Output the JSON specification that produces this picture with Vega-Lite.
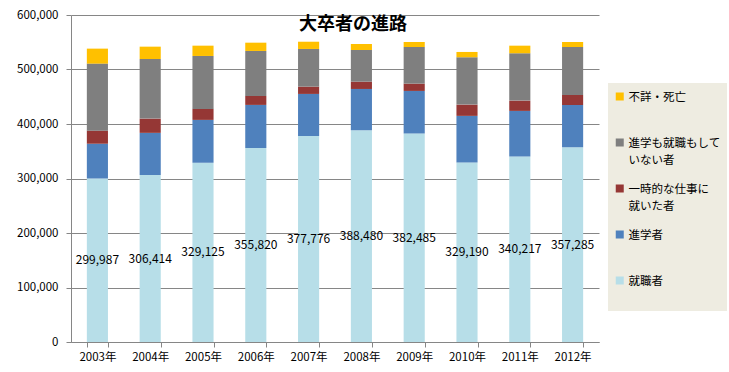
{
  "$schema": "https://vega.github.io/schema/vega-lite/v6.json",
  "autosize": {"type": "none"},
  "width": 528,
  "height": 327,
  "padding": {"left": 71, "top": 15, "right": 130, "bottom": 30},
  "background": "white",
  "config": {
    "font": "Noto Sans CJK JP",
    "view": {"stroke": null},
    "style": {"guide-label": {"lineHeight": 17}}
  },
  "title": {
    "text": "大卒者の進路",
    "fontSize": 18,
    "fontWeight": "bold",
    "font": "Noto Sans CJK JP",
    "color": "#000000",
    "anchor": "middle",
    "frame": "group",
    "offset": -25,
    "dx": 18
  },
  "data": {
    "values": [
      {"y": "2003年", "c": "就職者", "n": 1, "v": 299987},
      {"y": "2003年", "c": "進学者", "n": 2, "v": 63800},
      {"y": "2003年", "c": "一時的な仕事に就いた者", "n": 3, "v": 24000},
      {"y": "2003年", "c": "進学も就職もしていない者", "n": 4, "v": 123000},
      {"y": "2003年", "c": "不詳・死亡", "n": 5, "v": 27500},
      {"y": "2004年", "c": "就職者", "n": 1, "v": 306414},
      {"y": "2004年", "c": "進学者", "n": 2, "v": 77300},
      {"y": "2004年", "c": "一時的な仕事に就いた者", "n": 3, "v": 26200},
      {"y": "2004年", "c": "進学も就職もしていない者", "n": 4, "v": 109400},
      {"y": "2004年", "c": "不詳・死亡", "n": 5, "v": 22600},
      {"y": "2005年", "c": "就職者", "n": 1, "v": 329125},
      {"y": "2005年", "c": "進学者", "n": 2, "v": 78400},
      {"y": "2005年", "c": "一時的な仕事に就いた者", "n": 3, "v": 20200},
      {"y": "2005年", "c": "進学も就職もしていない者", "n": 4, "v": 97100},
      {"y": "2005年", "c": "不詳・死亡", "n": 5, "v": 18900},
      {"y": "2006年", "c": "就職者", "n": 1, "v": 355820},
      {"y": "2006年", "c": "進学者", "n": 2, "v": 79200},
      {"y": "2006年", "c": "一時的な仕事に就いた者", "n": 3, "v": 16500},
      {"y": "2006年", "c": "進学も就職もしていない者", "n": 4, "v": 82500},
      {"y": "2006年", "c": "不詳・死亡", "n": 5, "v": 15200},
      {"y": "2007年", "c": "就職者", "n": 1, "v": 377776},
      {"y": "2007年", "c": "進学者", "n": 2, "v": 77400},
      {"y": "2007年", "c": "一時的な仕事に就いた者", "n": 3, "v": 13400},
      {"y": "2007年", "c": "進学も就職もしていない者", "n": 4, "v": 69100},
      {"y": "2007年", "c": "不詳・死亡", "n": 5, "v": 13300},
      {"y": "2008年", "c": "就職者", "n": 1, "v": 388480},
      {"y": "2008年", "c": "進学者", "n": 2, "v": 75800},
      {"y": "2008年", "c": "一時的な仕事に就いた者", "n": 3, "v": 13400},
      {"y": "2008年", "c": "進学も就職もしていない者", "n": 4, "v": 58100},
      {"y": "2008年", "c": "不詳・死亡", "n": 5, "v": 11000},
      {"y": "2009年", "c": "就職者", "n": 1, "v": 382485},
      {"y": "2009年", "c": "進学者", "n": 2, "v": 78200},
      {"y": "2009年", "c": "一時的な仕事に就いた者", "n": 3, "v": 13400},
      {"y": "2009年", "c": "進学も就職もしていない者", "n": 4, "v": 67200},
      {"y": "2009年", "c": "不詳・死亡", "n": 5, "v": 9200},
      {"y": "2010年", "c": "就職者", "n": 1, "v": 329190},
      {"y": "2010年", "c": "進学者", "n": 2, "v": 85700},
      {"y": "2010年", "c": "一時的な仕事に就いた者", "n": 3, "v": 20700},
      {"y": "2010年", "c": "進学も就職もしていない者", "n": 4, "v": 86900},
      {"y": "2010年", "c": "不詳・死亡", "n": 5, "v": 9700},
      {"y": "2011年", "c": "就職者", "n": 1, "v": 340217},
      {"y": "2011年", "c": "進学者", "n": 2, "v": 83800},
      {"y": "2011年", "c": "一時的な仕事に就いた者", "n": 3, "v": 18900},
      {"y": "2011年", "c": "進学も就職もしていない者", "n": 4, "v": 86900},
      {"y": "2011年", "c": "不詳・死亡", "n": 5, "v": 13900},
      {"y": "2012年", "c": "就職者", "n": 1, "v": 357285},
      {"y": "2012年", "c": "進学者", "n": 2, "v": 77700},
      {"y": "2012年", "c": "一時的な仕事に就いた者", "n": 3, "v": 18300},
      {"y": "2012年", "c": "進学も就職もしていない者", "n": 4, "v": 88000},
      {"y": "2012年", "c": "不詳・死亡", "n": 5, "v": 9200}
    ]
  },
  "encoding": {
    "x": {
      "field": "y",
      "type": "ordinal",
      "scale": {"paddingInner": 0.6, "paddingOuter": 0.3},
      "axis": {
        "title": null,
        "labelAngle": 0,
        "tickBand": "extent",
        "domainColor": "#868686",
        "tickColor": "#868686",
        "tickSize": 5,
        "labelFontSize": 11.5,
        "labelColor": "#000000",
        "labelPadding": 4,
        "grid": false
      }
    }
  },
  "layer": [
    {
      "mark": {"type": "bar"},
      "encoding": {
        "y": {
          "field": "v",
          "type": "quantitative",
          "stack": "zero",
          "scale": {"domain": [0, 600000], "nice": false},
          "axis": {
            "title": null,
            "values": [0, 100000, 200000, 300000, 400000, 500000, 600000],
            "format": ",d",
            "labelFontSize": 11.5,
            "labelColor": "#000000",
            "labelPadding": 8,
            "tickSize": 5,
            "tickColor": "#868686",
            "domainColor": "#868686",
            "gridColor": "#868686"
          }
        },
        "color": {
          "field": "c",
          "type": "nominal",
          "scale": {
            "domain": ["不詳・死亡", "進学も就職もしていない者", "一時的な仕事に就いた者", "進学者", "就職者"],
            "range": ["#FFC000", "#7F7F7F", "#953735", "#4F81BD", "#B7DEE8"]
          },
          "legend": {
            "title": null,
            "orient": "none",
            "legendX": 537,
            "legendY": 68,
            "fillColor": "#EEECE1",
            "padding": 6,
            "symbolType": "M -1 -2.1 H 1 V -0.1 H -1 Z",
            "symbolSize": 64,
            "symbolStrokeWidth": 0,
            "labelFontSize": 11.5,
            "labelColor": "#000000",
            "labelOffset": 3,
            "labelBaseline": "alphabetic",
            "clipHeight": 24,
            "rowPadding": 14,
            "labelExpr": "datum.label == '進学も就職もしていない者' ? ['進学も就職もして', 'いない者'] : datum.label == '一時的な仕事に就いた者' ? ['一時的な仕事に', '就いた者'] : [datum.label, ' ']"
          }
        },
        "order": {"field": "n", "type": "quantitative"}
      }
    },
    {
      "transform": [{"filter": "datum.c == '就職者'"}],
      "mark": {"type": "text", "fontSize": 12, "color": "#000000"},
      "encoding": {
        "y": {
          "field": "v",
          "type": "quantitative",
          "scale": {"domain": [0, 1200000], "nice": false},
          "axis": null
        },
        "text": {"field": "v", "type": "quantitative", "format": ","}
      }
    }
  ],
  "resolve": {"scale": {"y": "independent"}}
}
